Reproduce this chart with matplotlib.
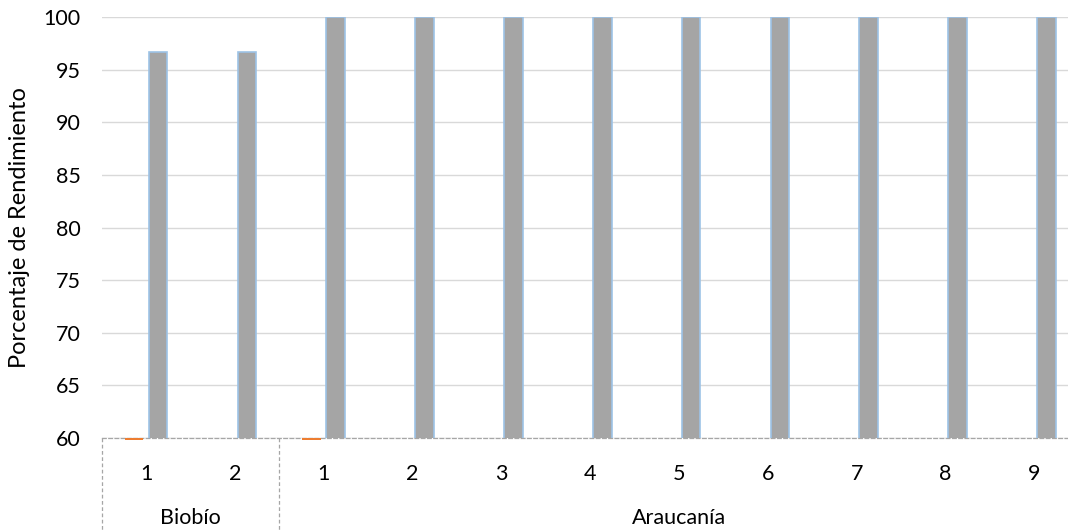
import numpy as np
import matplotlib
matplotlib.use("Agg")
import matplotlib.pyplot as plt
from matplotlib.lines import Line2D
from matplotlib.transforms import blended_transform_factory

# data
groups = ["Biobío", "Araucanía"]
group_sizes = [2, 9]
tick_labels = ["1", "2", "1", "2", "3", "4", "5", "6", "7", "8", "9"]
gray_vals = [96.7, 96.7, 100, 100, 100, 100, 100, 100, 100, 100, 100]
# orange series sits just under the 60 axis floor (only shows as a sliver)
orange_vals = [59.8, np.nan, 59.8, np.nan, np.nan, np.nan, np.nan, np.nan, np.nan, np.nan, np.nan]

plt.rcParams['font.family'] = ['Lato', 'DejaVu Sans']
plt.rcParams['font.size'] = 15.5

fig = plt.figure(figsize=(10.68, 5.32), dpi=100)
ax = fig.add_axes([101.7 / 1068, 94 / 532, 977 / 1068, 421 / 532])

x = np.arange(len(tick_labels))
ymin = 60
w = 0.21

ov = np.array(orange_vals)
ax.bar(x - 0.135, ov - ymin, bottom=ymin, width=w, color="#ed7d31", clip_on=False, zorder=3)
ax.bar(x + 0.135, gray_vals, width=w, color="#a5a5a5", edgecolor="#9dc3e6", linewidth=1.2, zorder=3)

ax.set_ylim(ymin, 100)
ax.set_xlim(-0.5, len(tick_labels) - 0.5)
ax.set_yticks(range(60, 101, 5))
ax.grid(axis="y", color="#d9d9d9", linewidth=1, zorder=0)
ax.tick_params(axis="y", length=0, pad=15)
ax.tick_params(axis="x", length=0, pad=19)
ax.set_xticks(x)
ax.set_xticklabels(tick_labels)
for s in ["top", "right", "left"]:
    ax.spines[s].set_visible(False)
ax.spines["bottom"].set_color("#a6a6a6")
ax.spines["bottom"].set_linestyle((0, (3, 2)))
ax.spines["bottom"].set_linewidth(0.9)
ax.set_ylabel("Porcentaje de Rendimiento", fontsize=17, labelpad=10)

# group boxes under the axis
trans = blended_transform_factory(ax.transData, ax.transAxes)
edge = -0.5
bounds = [edge]
for n in group_sizes:
    edge += n
    bounds.append(edge)
for b in bounds:
    ax.add_line(Line2D([b, b], [0, -0.23], transform=trans, color="#a6a6a6",
                       linestyle=(0, (3, 2)), linewidth=0.9, clip_on=False))
for i, g in enumerate(groups):
    ax.text((bounds[i] + bounds[i + 1]) / 2, -0.19, g, transform=trans,
            ha="center", va="center")

fig.savefig("out.png", dpi=100)
